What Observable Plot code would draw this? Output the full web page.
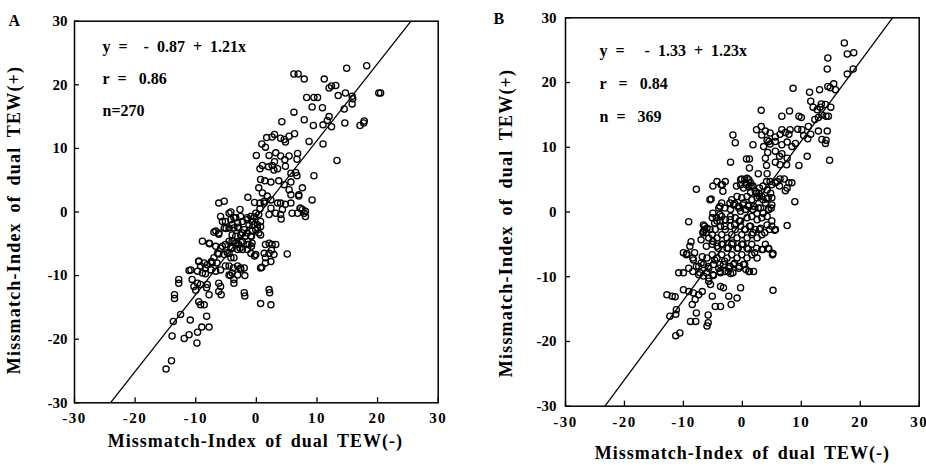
<!DOCTYPE html>
<html><head><meta charset="utf-8">
<script src="https://cdn.jsdelivr.net/npm/d3@7"></script>
<script src="https://cdn.jsdelivr.net/npm/@observablehq/plot@0.6"></script>
<style>
html,body{margin:0;padding:0;background:#fff;}
#wrap{position:relative;width:926px;height:467px;overflow:hidden;background:#fff;}
#wrap svg{position:absolute;top:0;overflow:visible;}
svg text{font-family:"Liberation Serif","Times New Roman",serif;font-weight:bold;fill:#000;}
</style></head><body><div id="wrap"></div>
<script>
// ---------- tick values and labels ----------
const xTicks = [-30, -20, -10, 0, 10, 20, 30];
const xTickLabels = ["-30", "-20", "-10", "0", "10", "20", "30"];
const yTicks = [-30, -20, -10, 0, 10, 20, 30];
const yTickLabels = ["-30", "-20", "-10", "0", "10", "20", "30"];

// ---------- titles / annotations ----------
const xTitle = "Missmatch-Index of dual TEW(-)";
const yTitle = "Missmatch-Index of dual TEW(+)";
const panelLetters = ["A", "B"];
const statsA = ["y\u00a0\u00a0=\u00a0\u00a0\u00a0\u00a0-\u00a0\u00a00.87\u00a0\u00a0+\u00a0\u00a01.21x", "r\u00a0\u00a0=\u00a0\u00a0\u00a00.86", "n=270"];
const statsB = ["y\u00a0\u00a0=\u00a0\u00a0\u00a0\u00a0\u00a0-\u00a0\u00a01.33\u00a0\u00a0+\u00a0\u00a01.23x", "r\u00a0\u00a0\u00a0=\u00a0\u00a0\u00a00.84", "n\u00a0\u00a0=\u00a0\u00a0\u00a0369"];

// ---------- regression lines (intercept, slope) ----------
const fitA = {a: -0.87, b: 1.21};
const fitB = {a: -1.33, b: 1.23};

// ---------- panel A points [TEW(-), TEW(+)] ----------
const pointsA = [
[14.9,22.6],[18.2,23.0],[6.2,21.7],[6.9,21.7],[7.9,20.9],[11.2,20.9],[12.4,19.8],[12.0,19.5],[13.1,19.9],[14.7,18.7],[13.5,18.3],[15.8,18.2],[15.9,17.8],[20.5,18.7],[20.2,18.7],[8.3,18.0],[9.5,18.0],[10.1,18.0],[9.2,16.5],[10.9,16.4],[14.5,16.2],[15.8,17.0],[6.2,15.7],[12.0,15.0],[11.7,14.4],[7.9,14.5],[9.4,13.6],[11.0,13.7],[12.4,13.4],[14.6,14.0],[17.1,13.6],[17.7,14.0],[17.8,14.3],[4.2,14.2],[1.7,11.7],[3.0,12.2],[2.6,11.8],[4.0,11.6],[4.6,11.4],[4.8,11.0],[5.4,11.9],[6.3,12.3],[11.0,10.7],[8.7,11.1],[0.9,10.7],[1.5,10.2],[13.3,8.1],
[0.0,8.9],[2.1,8.9],[3.2,9.3],[4.0,8.8],[4.7,8.2],[5.4,8.8],[6.8,9.2],[6.7,8.3],[1.0,7.3],[0.6,6.8],[2.0,7.1],[2.6,7.3],[3.0,7.9],[2.9,6.6],[3.5,6.8],[4.8,7.2],[5.7,6.1],[6.5,6.2],[6.7,5.7],[9.5,5.7],[0.7,5.1],[1.4,4.9],[2.4,4.7],[3.7,4.9],[5.7,4.7],
[4.6,4.3],[5.4,3.5],[5.7,2.7],[7.6,3.8],[7.0,2.7],[9.2,1.9],[0.4,3.8],[1.0,3.0],[1.8,2.5],[2.4,1.9],[1.3,1.4],[2.4,0.6],[3.5,1.4],[4.0,1.4],[4.8,1.2],[5.7,1.4],[4.3,0.4],[4.0,-0.4],[3.2,-0.2],[2.1,-0.4],[5.9,-0.2],[6.8,-0.2],[7.6,0.4],[8.1,0.1],[8.1,-0.7],[7.3,0.6],[-6.2,1.4],[-5.3,1.7],[-1.4,2.3],
[-4.5,-0.2],[-4.2,-1.2],[-3.4,-0.9],[-2.6,-0.7],[-5.9,-0.7],[-5.6,-1.5],[-5.1,-1.5],[-4.0,-2.0],[-3.1,-1.7],[-2.3,-1.5],[-1.5,-0.9],[-0.9,-0.7],[-0.1,-0.2],[0.4,-0.4],[0.7,-1.5],[-0.7,-1.5],[-1.2,-2.0],[-0.4,-2.0],[0.2,-2.5],
[-6.7,-3.0],[-6.2,-3.3],[-5.3,-2.5],[-4.5,-2.5],[-3.7,-2.5],[-2.9,-2.5],[-2.0,-2.8],[-0.7,-3.0],[-0.1,-2.8],[0.7,-3.6],[-4.0,-3.6],[-3.4,-3.8],[-2.6,-3.6],[-1.8,-3.8],[-0.9,-3.8],[0.4,-3.3],
[-8.9,-4.6],[-7.8,-4.9],[-6.7,-5.4],[-5.9,-5.7],[-5.1,-5.1],[-4.5,-4.6],[-3.7,-4.6],[-2.9,-5.1],[-2.3,-4.6],[-1.5,-5.1],[-0.7,-4.9],[-4.0,-5.7],[-3.1,-5.9],[-2.3,-5.9],[-1.5,-5.9],[-4.5,-6.5],[-5.3,-6.7],[-4.2,-7.2],[-6.4,-6.5],[2.1,-4.9],[2.6,-5.1],[3.2,-5.1],[1.3,-6.5],[2.1,-6.5],[1.5,-7.2],[5.1,-6.6],[-0.1,-6.7],[-0.9,-6.5],
[-9.5,-7.8],[-8.6,-8.0],[-8.1,-8.3],[-7.3,-8.0],[-9.2,-8.5],[-8.4,-8.8],[-7.5,-9.1],[-6.7,-9.3],[-10.8,-9.1],[-9.7,-9.3],[-8.9,-9.6],[-5.9,-9.1],[-4.5,-8.5],[-3.1,-8.5],[-2.6,-8.8],[-2.0,-8.8],[-4.0,-9.6],[-4.5,-9.9],[-3.1,-9.9],[0.7,-8.8],[1.5,-8.0],
[-12.8,-10.6],[-10.6,-10.6],[-9.7,-11.2],[-10.3,-11.7],[-9.2,-11.4],[-8.1,-11.4],[-6.2,-11.2],[-5.9,-11.7],[-6.2,-12.5],[-7.8,-13.0],[-3.7,-10.6],[-2.0,-12.7],[2.1,-12.2],[-13.5,-13.0],[-9.5,-14.1],[-8.6,-14.6],[0.7,-14.4],[2.4,-14.6],
[-12.5,-16.1],[-13.7,-17.2],[-10.9,-17.0],[-8.2,-16.4],[-9.0,-18.1],[-9.7,-18.9],[-7.8,-18.1],[-13.9,-19.5],[-11.9,-19.9],[-11.1,-19.3],[-9.8,-20.6],[-14.0,-23.4],[-14.9,-24.7],
[-7.0,-3.2],[-6.2,-3.5],[-5.0,-2.6],[-3.1,-2.4],[-2.3,-3.3],[-1.5,-3.3],[-0.8,-3.8],[-7.7,-5.0],[-4.0,-4.6],[-3.4,-4.9],[-2.5,-4.8],[-1.2,-5.1],[-5.6,-5.4],[-4.2,-5.7],[-2.7,-5.7],[-0.8,-5.4],[-6.2,-6.6],[-4.8,-6.4],[-3.7,-7.2],[-0.3,-6.9],[-7.0,-7.2],[-7.4,-7.8],[-6.5,-8.0],[-9.5,-7.7],[-5.1,-8.5],[-3.8,-8.8],[-2.6,-9.0],[-4.3,-10.0],[-1.9,-10.0],[-11.1,-9.2],[-8.4,-9.7],[-3.7,-11.2],[-12.8,-11.2],[-10.0,-12.3],[-8.2,-11.9],[-5.8,-13.0],[-1.9,-13.2],[-9.2,-14.6],[-13.5,-13.6],[2.2,-12.7],[1.5,-5.1],[2.5,-6.0],[2.9,-6.7],[2.4,-7.8],[0.9,-8.7],[-4.2,0.0],[-2.7,0.4],[-3.7,-0.9],[-1.5,-1.2],[-0.3,-0.8],[0.2,-2.0],[0.7,-2.3],[0.6,0.5],[-0.3,1.5],[0.6,1.4],[1.3,1.7],[4.1,-1.1],[7.2,0.6],[7.9,-0.2],[7.0,2.5]
];

// ---------- panel B points [TEW(-), TEW(+)] ----------
const pointsB = [
[17.3,26.1],[17.8,24.4],[18.9,24.6],[14.5,23.8],[14.4,22.1],[17.8,21.3],[18.8,22.1],[8.6,19.1],[11.4,18.5],[13.1,18.9],[14.5,19.4],[15.5,19.8],[15.8,18.9],[14.9,19.2],[3.2,15.7],[6.7,14.8],[8.0,15.6],[9.6,14.8],[10.0,14.6],[11.6,17.1],[12.0,16.2],[12.7,15.8],[13.2,16.2],[14.1,16.6],[15.0,16.2],[12.3,14.3],[12.9,14.6],[13.5,15.0],[14.2,14.8],[14.6,14.8],[13.4,16.7],[2.4,12.7],[3.2,13.2],[3.9,12.5],[4.7,12.2],[5.6,11.6],[6.4,12.0],[6.7,12.7],[7.3,12.3],[8.1,12.7],[7.9,12.0],[9.4,12.8],[10.1,12.7],[11.2,13.2],[11.6,12.0],[12.9,12.5],[14.4,12.5],[14.2,11.1],[13.5,11.2],[14.1,10.6],[-1.6,11.9],[-1.2,10.7],[1.8,10.4],[3.3,11.9],[4.2,11.1],[4.7,10.5],[5.6,10.9],[6.7,10.4],[7.6,10.8],[8.4,10.1],[9.0,10.6],[3.6,10.1],[4.5,10.9],[10.4,11.8],[11.1,11.3],
[-2.0,7.7],[0.7,8.2],[1.2,8.2],[1.2,6.8],[3.9,8.3],[4.1,7.2],[4.3,9.2],[5.6,9.4],[6.3,8.6],[6.7,9.0],[7.6,8.3],[7.5,7.3],[6.4,7.3],[5.6,7.7],[9.6,7.2],[11.0,8.6],[2.7,5.9],[4.2,5.9],[-7.8,3.5],[-3.4,4.2],[-2.9,4.7],[-3.3,3.2],[-0.1,5.1],[0.8,5.2],[0.5,4.5],[1.4,4.5],[-0.3,4.2],[0.2,3.7],[1.1,3.9],[1.8,4.0],[2.2,3.2],[2.9,3.7],[4.1,4.7],[4.7,4.7],[5.6,4.5],[5.9,4.7],[6.4,5.1],[7.1,5.1],[7.9,4.5],[7.6,3.7],[8.4,4.5],[7.3,3.3],[6.3,4.0],[3.5,4.0],[4.2,3.4],[5.0,4.2],[8.9,1.6],[-5.5,1.9],[-9.1,-1.5],[-8.7,-4.6],[7.6,-2.1],[5.2,-12.1],[14.8,8.0],
[-1.8,1.9],[-0.9,2.4],[-0.1,2.2],[0.8,2.4],[1.6,1.9],[2.5,2.2],[3.3,2.4],[4.2,2.0],[5.0,2.2],[4.8,2.9],[2.8,2.9],[1.4,3.0],[-1.5,1.1],[-0.6,0.9],[0.2,1.4],[1.1,1.1],[1.9,0.9],[3.1,0.6],[3.9,1.4],[5.0,1.1],[4.5,0.4],[2.5,-0.2],[-0.3,0.1],[0.5,0.4],[-2.0,0.4],[-4.0,0.6],[-3.5,1.4],
[-6.6,-2.0],[-6.0,-2.5],[-6.6,-3.0],[-5.1,-0.9],[-4.3,-1.4],[-3.5,-0.7],[-2.9,-1.2],[-2.0,-0.7],[-1.2,-0.9],[-0.3,-1.4],[0.8,-0.9],[1.6,-0.7],[2.5,-1.2],[3.3,-0.9],[4.2,-0.7],[5.0,-1.4],[5.6,-2.7],[5.0,-2.2],[4.2,-2.0],[3.1,-2.5],[-4.6,-2.7],[-3.7,-2.2],[-2.9,-2.7],[-2.0,-2.2],[-1.2,-2.7],[-0.3,-2.2],[0.5,-2.7],[1.4,-2.2],[2.2,-2.7],
[-5.7,-4.0],[-5.1,-3.5],[-4.3,-4.0],[-3.5,-3.5],[-2.6,-4.0],[-1.8,-3.5],[-0.9,-4.0],[-0.1,-3.5],[0.8,-4.0],[1.6,-3.5],[2.5,-4.0],[3.3,-3.5],[3.9,-5.0],[4.5,-5.7],[5.2,-6.4],[3.3,-5.8],[2.4,-5.6],[-5.1,-5.0],[-4.3,-5.3],[-3.5,-5.0],[-2.6,-5.6],[-1.8,-5.0],[-0.9,-5.6],[-0.1,-5.0],[0.8,-5.6],[1.6,-5.0],[-10.0,-6.3],[-9.4,-6.4],[-8.3,-7.4],
[-6.8,-6.9],[-6.0,-7.1],[-5.1,-6.6],[-4.3,-7.1],[-3.5,-6.6],[-2.6,-7.1],[-1.8,-6.6],[-0.9,-7.1],[-0.1,-6.6],[0.8,-7.1],[1.6,-6.6],[2.5,-7.1],[-7.4,-8.4],[-6.6,-8.1],[-5.7,-8.7],[-4.9,-8.1],[-4.0,-8.7],[-3.2,-8.1],[-2.3,-8.7],[-1.5,-8.1],[-0.6,-8.7],[0.2,-8.1],[1.1,-9.2],[1.9,-9.2],[-10.8,-9.4],[-10.0,-9.4],[-9.1,-8.7],
[-7.4,-9.7],[-6.6,-9.9],[-5.7,-10.2],[-4.9,-9.8],[-3.7,-9.4],[-2.9,-9.2],[-2.0,-9.5],[-12.8,-12.8],[-11.9,-13.0],[-11.4,-13.1],[-10.0,-12.0],[-9.1,-12.3],[-8.3,-12.5],[-7.4,-12.8],[-6.8,-12.3],[-8.0,-13.5],[-8.5,-14.3],[-5.1,-13.0],[-3.7,-11.5],[-3.2,-11.7],[-2.3,-13.0],[-0.9,-13.3],[-0.3,-11.7],[-4.6,-14.6],[-3.7,-14.6],[-1.9,-14.3],[-5.7,-10.7],[-5.4,-11.2],
[-12.3,-16.1],[-11.2,-15.1],[-11.3,-15.8],[-8.8,-16.9],[-7.9,-16.9],[-7.8,-15.6],[-5.8,-15.9],[-5.8,-17.1],[-6.0,-17.6],[-11.3,-19.1],[-10.6,-18.7],
[-5.3,2.0],[-5.0,4.0],[-4.3,4.7],[-3.6,4.2],[-1.0,4.0],[-0.3,5.0],[0.4,5.0],[1.1,5.0],[0.7,4.2],[1.5,4.0],[2.4,2.9],[2.9,2.4],[3.5,1.9],[4.4,2.2],
[-3.8,0.9],[-3.0,0.6],[-2.1,1.4],[-1.3,1.3],[-0.6,0.6],[0.1,1.1],[1.0,0.9],[1.8,0.4],[2.7,0.6],[3.5,-0.2],[4.4,0.4],[4.9,0.6],
[-6.4,-2.2],[-6.1,-3.2],[-5.5,-2.7],[-4.7,-1.7],[-3.8,-1.4],[-3.0,-2.2],[-2.1,-1.2],[-1.3,-2.0],[-0.5,-1.4],[0.4,-2.7],[1.2,-2.2],[1.8,-3.2],[2.9,-2.7],[3.8,-3.2],[4.6,-2.7],[5.5,-2.8],
[-6.1,-5.3],[-5.0,-4.5],[-4.1,-5.6],[-3.3,-5.0],[-2.4,-5.6],[-1.6,-4.8],[-0.7,-5.6],[0.1,-5.0],[1.0,-5.7],[2.1,-6.3],[3.5,-5.8],[4.4,-5.6],[5.1,-6.6],
[-7.0,-7.9],[-5.8,-8.4],[-4.7,-7.4],[-3.8,-8.1],[-3.0,-7.6],[-2.1,-8.4],[-1.3,-7.9],[-0.5,-8.4],[0.4,-8.1],[1.2,-9.2],[0.6,-8.9],
[-8.4,-9.2],[-7.8,-8.4],[-7.2,-9.4],[-6.1,-9.4],[-5.0,-9.7],[-3.8,-9.2],[-2.4,-9.2],[-1.6,-9.4],
[-9.5,-6.6],[-8.4,-7.1],[-8.1,-6.3],[-8.9,-5.3],[-6.7,-3.2],[-6.4,-2.7],[-7.0,-4.3],[-5.0,-0.2],[-4.4,-0.9],[-3.8,-0.4]
];

const fmt = (ticks, labels) => d => labels[ticks.indexOf(d)];
const serif = "Liberation Serif, Times New Roman, serif";

function makePanel(cfg) {
  const H = 467;
  const innerW = cfg.width - cfg.ml - cfg.mr;
  const innerH = H - cfg.mt - cfg.mb;
  const svg = Plot.plot({
    width: cfg.width, height: H,
    marginLeft: cfg.ml, marginRight: cfg.mr, marginTop: cfg.mt, marginBottom: cfg.mb,
    x: {domain: [-30, 30]},
    y: {domain: [-30, 30]},
    style: {fontFamily: serif, fontSize: "15px", fontWeight: "bold", color: "#000", background: "transparent", overflow: "visible"},
    marks: [
      Plot.dot(cfg.points, {x: d => d[0], y: d => d[1], r: 3.1, stroke: "#000", strokeWidth: 1.3, fill: "none"}),
      Plot.link([cfg.fit], {x1: f => (-30 - f.a) / f.b, y1: () => -30, x2: f => (30 - f.a) / f.b, y2: () => 30, stroke: "#000", strokeWidth: 1.3}),
      Plot.frame({stroke: "#000", strokeWidth: 1.5}),
      Plot.tickX(xTicks, {x: d => d, insetTop: innerH - 5, stroke: "#000", strokeWidth: 1.3}),
      Plot.tickY(yTicks, {y: d => d, insetRight: innerW - 5, stroke: "#000", strokeWidth: 1.3}),
      Plot.axisX(xTicks, {tickSize: 0, tickPadding: 10, tickFormat: fmt(xTicks, xTickLabels), fontSize: 15, fontFamily: serif, fontWeight: "bold"}),
      Plot.axisY(yTicks, {tickSize: 0, tickPadding: cfg.ypad, tickFormat: fmt(yTicks, yTickLabels), fontSize: 15, fontFamily: serif, fontWeight: "bold"}),
      Plot.text([xTitle], {frameAnchor: "bottom", textAnchor: "middle", dy: cfg.xtdy, dx: cfg.xtdx, fontSize: 18, fontWeight: "bold", fontFamily: serif, lineAnchor: "middle"}),
      Plot.text([yTitle], {frameAnchor: "left", textAnchor: "middle", rotate: -90, dx: cfg.ytdx, dy: cfg.ytdy, fontSize: 18, fontWeight: "bold", fontFamily: serif, lineAnchor: "middle"}),
      Plot.text([cfg.stats.join("\n")], {frameAnchor: "top-left", textAnchor: "start", lineAnchor: "top", lineHeight: cfg.lh, dx: cfg.sdx, dy: cfg.sdy, fontSize: 16, fontWeight: "bold", fontFamily: serif}),
      Plot.text([cfg.letter], {frameAnchor: "top-left", textAnchor: "start", lineAnchor: "middle", dx: cfg.ldx, dy: cfg.ldy, fontSize: 16, fontWeight: "bold", fontFamily: serif})
    ]
  });
  const s = d3.select(svg);
  s.selectAll('g[aria-label="x-axis tick label"] text').style("letter-spacing", "1.5px");
  s.selectAll("text").filter(function () { return this.textContent === xTitle; })
    .style("letter-spacing", "1px").style("word-spacing", "3px");
  s.selectAll("text").filter(function () { return this.textContent === yTitle; })
    .style("letter-spacing", "1.2px").style("word-spacing", "4px");
  return svg;
}

const wrap = document.getElementById("wrap");
const svgA = makePanel({
  points: pointsA, fit: fitA, width: 463, ml: 74, mr: 25.3, mt: 20.7, mb: 64.7, ypad: 7,
  xtdy: 38, xtdx: -1, ytdx: -60, ytdy: 8, stats: statsA, lh: 2.0, sdx: 28, sdy: 8,
  letter: panelLetters[0], ldx: -66, ldy: 0
});
svgA.style.left = "0px";
const svgB = makePanel({
  points: pointsB, fit: fitB, width: 463, ml: 102, mr: 7.3, mt: 17.3, mb: 61.3, ypad: 9,
  xtdy: 47, xtdx: 0, ytdx: -59, ytdy: 11, stats: statsB, lh: 2.07, sdx: 34, sdy: 14.5,
  letter: panelLetters[1], ldx: -72, ldy: 1
});
svgB.style.left = "463px";
wrap.appendChild(svgA);
wrap.appendChild(svgB);
</script></body></html>
